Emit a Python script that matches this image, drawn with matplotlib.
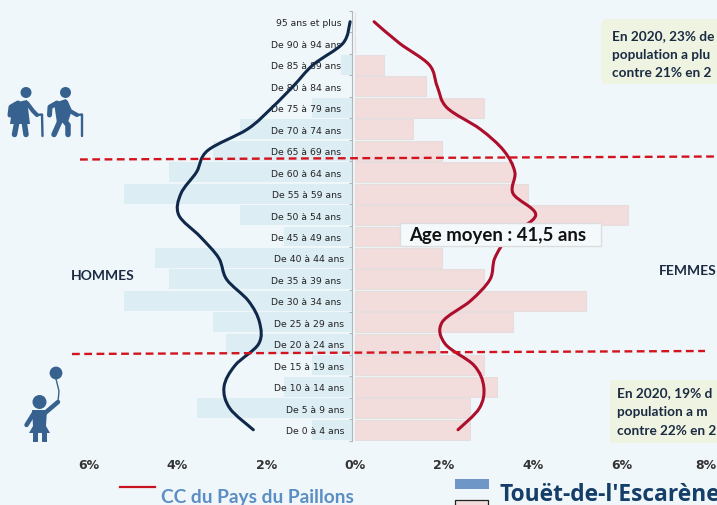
import numpy as np
import matplotlib
matplotlib.use("Agg")
import matplotlib.pyplot as plt
from matplotlib.path import Path
from matplotlib.patches import PathPatch, Circle, Polygon, Rectangle, FancyBboxPatch
from matplotlib.transforms import ScaledTranslation

age_labels = ["De 0 à 4 ans", "De 5 à 9 ans", "De 10 à 14 ans", "De 15 à 19 ans", "De 20 à 24 ans",
              "De 25 à 29 ans", "De 30 à 34 ans", "De 35 à 39 ans", "De 40 à 44 ans", "De 45 à 49 ans",
              "De 50 à 54 ans", "De 55 à 59 ans", "De 60 à 64 ans", "De 65 à 69 ans", "De 70 à 74 ans",
              "De 75 à 79 ans", "De 80 à 84 ans", "De 85 à 89 ans", "De 90 à 94 ans", "95 ans et plus"]
hommes = [0.97, 3.55, 1.6, 0.97, 2.9, 3.2, 5.2, 4.2, 4.5, 1.6,
          2.6, 5.2, 4.2, 3.2, 2.6, 0.97, 0.0, 0.32, 0.0, 0.0]
femmes = [2.6, 2.6, 3.2, 2.9, 1.9, 3.55, 5.2, 2.9, 1.95, 1.95,
          6.15, 3.9, 3.55, 1.95, 1.3, 2.9, 1.6, 0.65, 0.0, 0.0]
cc_hommes = [2.27, 2.8, 2.93, 2.68, 2.15, 2.13, 2.38, 2.87, 3.05, 3.47,
             3.95, 3.9, 3.55, 3.3, 2.4, 1.85, 1.37, 0.92, 0.25, 0.09]
cc_femmes = [2.32, 2.8, 2.9, 2.68, 2.03, 1.96, 2.6, 3.04, 3.15, 3.47,
             4.07, 3.56, 3.6, 3.35, 2.82, 2.07, 1.85, 1.67, 1.0, 0.43]
x_ticks = [-6, -4, -2, 0, 2, 4, 6, 8]
x_labels = ["6%", "4%", "2%", "0%", "2%", "4%", "6%", "8%"]

W, H = 717, 506
BG = "#F0F7FA"
X0, PX = 355.0, 44.4
ICON = "#37618F"
INK = "#1A2B42"


def smooth_path(xs, ys):
    """Catmull-Rom curve through the series values, as cubic Bezier segments."""
    p = np.column_stack([xs, ys]).astype(float)
    verts, codes = [p[0]], [Path.MOVETO]
    for i in range(len(p) - 1):
        a = p[max(i - 1, 0)]
        b, c = p[i], p[i + 1]
        d = p[min(i + 2, len(p) - 1)]
        verts += [b + (c - a) / 6, c - (d - b) / 6, c]
        codes += [Path.CURVE4] * 3
    return Path(verts, codes)


fig = plt.figure(figsize=(W / 100, H / 100), dpi=100, facecolor=BG)
top, bot = 12.0, 441.5
ax = fig.add_axes([0, (H - bot) / H, 1, (bot - top) / H])
ax.set_facecolor("none")
ax.set_xlim(-X0 / PX, (W - X0) / PX)
ax.set_ylim(-0.5, 19.5)
rows = np.arange(len(age_labels))

GAP = 0.06
ax.barh(rows, -np.maximum(np.array(hommes) - GAP, 0), height=0.93, left=-GAP,
        color="#DCEDF4", edgecolor="none", zorder=1)
ax.barh(rows, femmes, height=0.93, color="#F2DCDC", edgecolor="#E6DEDE", linewidth=0.8, zorder=1)

ax.add_patch(PathPatch(smooth_path(-np.array(cc_hommes) - 0.02, rows), fill=False,
                       edgecolor="#10294B", lw=2.2, capstyle="round", zorder=4))
ax.add_patch(PathPatch(smooth_path(cc_femmes, rows), fill=False,
                       edgecolor="#AC0E2C", lw=2.2, capstyle="round", zorder=4))

for s in ("top", "right", "bottom"):
    ax.spines[s].set_visible(False)
ax.spines["left"].set_position(("data", -0.07))
ax.spines["left"].set_color("#B5B5B5")
ax.spines["left"].set_linewidth(0.8)
ax.set_yticks(rows, age_labels, fontsize=6.7, color="#222222", family="DejaVu Sans")
ax.set_yticks(np.arange(-0.5, 20), minor=True)
ax.tick_params(axis="y", which="major", length=0, pad=7.5)
ax.tick_params(axis="y", which="minor", length=2.5, color="#B5B5B5", width=0.8, left=True)
for i, tick in enumerate(ax.yaxis.get_major_ticks()):
    if age_labels[i] in ("De 0 à 4 ans", "De 5 à 9 ans", "De 10 à 14 ans", "De 15 à 19 ans",
                         "De 20 à 24 ans", "De 25 à 29 ans", "De 40 à 44 ans"):
        tick.set_pad(5.5)
ax.set_xticks(x_ticks, x_labels, fontsize=9.0, fontweight="bold", color="#333333")
ax.tick_params(axis="x", length=0, pad=12.5)
fig.canvas.draw()
last = ax.get_xticklabels()[-1]
last.set_transform(last.get_transform() + ScaledTranslation(-3 / 72, 0, fig.dpi_scale_trans))

# overlay in pixel coordinates for annotation and pictograms
ov = fig.add_axes([0, 0, 1, 1], facecolor="none")
ov.set_xlim(0, W)
ov.set_ylim(H, 0)
ov.axis("off")

# dashed age thresholds
ov.plot([80, 717], [160.5, 157.5], color="#D2141E", lw=1.7, dashes=(3.3, 1.9), zorder=5)
ov.plot([72, 705], [355, 352], color="#D2141E", lw=1.7, dashes=(3.3, 1.9), zorder=5)

# text boxes
box_font = dict(family="Lato", fontweight="bold", fontsize=9.8, color=INK, zorder=7, va="center")
ov.add_patch(FancyBboxPatch((601, 20), 140, 65, boxstyle="round,pad=0,rounding_size=6",
                            fc="#EFF3E2", ec="none", zorder=6))
for y, t in zip([36, 55, 73], ["En 2020, 23% de", "population a plu", "contre 21% en 2"]):
    ov.text(612, y, t, **box_font)
ov.add_patch(Rectangle((610, 381), 120, 63, fc="#EFF3E2", ec="none", zorder=6))
for y, t in zip([393, 412, 431], ["En 2020, 19% d", "population a m", "contre 22% en 2"]):
    ov.text(617, y, t, **box_font)

ov.text(71, 276, "HOMMES", family="Lato", fontweight="bold", fontsize=10, color=INK, va="center")
ov.text(659, 271, "FEMMES", family="Lato", fontweight="bold", fontsize=10, color=INK, va="center")

ov.add_patch(Rectangle((400, 224), 201, 23, fc="#F4FAFC", ec="#DDDDDD", lw=1, zorder=6))
ov.text(409, 235.5, "Age moyen : 41,5 ans", family="Lato", fontweight="bold", fontsize=13.4,
        color="#111111", va="center", zorder=7)

# legend
ov.plot([120, 155], [488, 488], color="#C8141E", lw=1.6)
ov.text(161, 498, "CC du Pays du Paillons", family="Lato", fontweight="bold", fontsize=13.8,
        color="#5B8EC5", va="center", clip_on=True)
ov.add_patch(Rectangle((455, 480), 34, 10, fc="#6E97C8", ec="none"))
ov.add_patch(Rectangle((455, 500.5), 33, 10, fc="#F2DCDC", ec="#222222", lw=0.9))
ov.text(499, 495, "Touët-de-l'Escarène", family="Open Sans", fontweight="bold", fontsize=16.4,
        color="#153E68", va="center")


def limb(pts, w):
    a = np.array(pts)
    ov.plot(a[:, 0], a[:, 1], color=ICON, lw=w * 0.72, solid_capstyle="round", solid_joinstyle="round", zorder=3)


# elderly pictogram: woman
ov.add_patch(Circle((26, 93.5), 5.5, fc=ICON, ec="none"))
ov.add_patch(Polygon([(13, 104), (27, 101), (30, 125), (10, 125)], fc=ICON, ec="none"))
limb([(18, 104), (11, 108), (10, 116)], 5)
limb([(27, 104), (33, 112), (37, 116)], 4.2)
limb([(37, 116), (42, 115.5), (42.5, 137)], 2.4)
limb([(16.5, 125), (14.5, 135.5)], 5.5)
limb([(24.5, 125), (26, 135.5)], 5.5)
# elderly pictogram: man
ov.add_patch(Circle((65.5, 93.5), 5.5, fc=ICON, ec="none"))
ov.add_patch(Polygon([(54, 104), (66, 100), (71, 114), (68, 123), (57, 124)], fc=ICON, ec="none"))
limb([(57, 104), (50, 108), (49.5, 116)], 5)
limb([(66, 103), (70, 112), (77, 116)], 4.2)
limb([(77, 116), (82, 115.5), (82, 137)], 2.4)
limb([(60, 122), (54, 135.5)], 5.5)
limb([(63, 120), (68, 126), (68, 135.5)], 5.5)
# child pictogram
ov.add_patch(Circle((39.5, 403), 7, fc=ICON, ec="none"))
ov.add_patch(Circle((56, 374), 6.4, fc=ICON, ec="none"))
s = np.array([(56, 380), (59, 392), (58, 403)])
ov.plot(s[:, 0], s[:, 1], color=ICON, lw=1.0)
ov.add_patch(Polygon([(32, 411), (47, 411), (46, 427), (50, 434), (29, 434), (33, 427)], fc=ICON, ec="none"))
limb([(45, 414), (58, 403)], 4.5)
limb([(34, 414), (26.5, 426)], 4.5)
ov.add_patch(Rectangle((32.7, 434), 5.2, 9, fc=ICON, ec="none"))
ov.add_patch(Rectangle((41.7, 434), 5.2, 9, fc=ICON, ec="none"))

fig.savefig("out.png", dpi=100, facecolor=BG)
